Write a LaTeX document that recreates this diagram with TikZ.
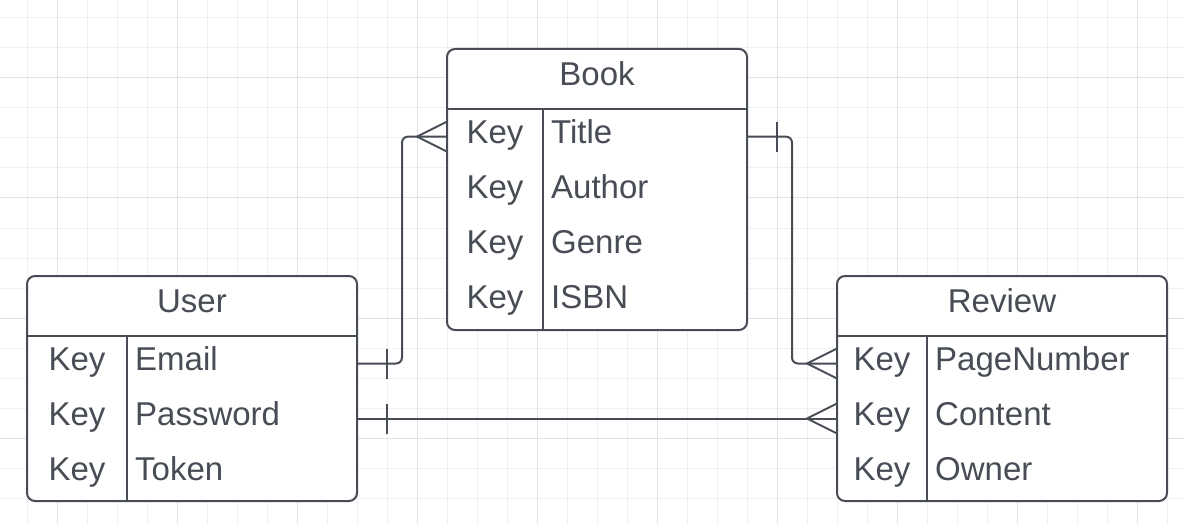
\documentclass[tikz,border=0pt]{standalone}
\usepackage{fontspec}
\setmainfont{Liberation Sans}
\usepackage{xcolor}
\usetikzlibrary{positioning,calc}
\definecolor{erdark}{HTML}{474C55}
\definecolor{gridminor}{HTML}{F0F0F0}
\definecolor{gridmajor}{HTML}{E2E2E2}

\begin{document}
\begin{tikzpicture}[x=1pt, y=-1pt,
  erline/.style={draw=erdark, line width=2pt},
  entity/.style={draw=erdark, fill=white, line width=2pt, rounded corners=8pt, inner sep=0pt, outer sep=0pt},
  keytxt/.style={font=\fontsize{33}{40}\selectfont, text=erdark, anchor=base, inner sep=0pt},
  attrtxt/.style={font=\fontsize{33}{40}\selectfont, text=erdark, anchor=base west, inner sep=0pt},
]
\useasboundingbox[fill=white] (0,0) rectangle (1184,524);
% Grid
\foreach \x in {27,57,...,1167} \draw[gridminor, line width=1pt] (\x,0) -- (\x,524);
\foreach \y in {18,48,...,498} \draw[gridminor, line width=1pt] (0,\y) -- (1184,\y);
\foreach \x in {57,177,...,1137} \draw[gridmajor, line width=1pt] (\x,0) -- (\x,524);
\foreach \y in {78,198,...,438} \draw[gridmajor, line width=1pt] (0,\y) -- (1184,\y);

% Tables
\foreach \nm/\xl/\yt/\w/\h/\kw/\hd in {%
  book/447/49/300/281/96/Book,
  user/27/276/330/225/100/User,
  review/837/276/330/225/90/Review%
} {
  \node[entity, minimum width=\w pt, minimum height=\h pt, anchor=north west] (\nm) at (\xl,\yt) {};
  \draw[erline] (\xl,{\yt+60}) -- ({\xl+\w},{\yt+60});
  \draw[erline] ({\xl+\kw},{\yt+60}) -- ({\xl+\kw},{\yt+\h});
  \node[keytxt] (\nm-hd) at ({\xl+\w/2},{\yt+36.5}) {\hd};
}
\foreach \i/\at in {1/Title,2/Author,3/Genre,4/ISBN} {
  \pgfmathsetmacro{\yc}{109+55.25*(\i-0.5)}
  \coordinate (book-w\i) at (447,\yc);
  \coordinate (book-e\i) at (747,\yc);
  \node[keytxt] (book-k\i) at (495,{\yc+6.5}) {Key};
  \node[attrtxt] (book-a\i) at (551,{\yc+6.5}) {\at};
}
\foreach \i/\at in {1/Email,2/Password,3/Token} {
  \pgfmathsetmacro{\yc}{336+55*(\i-0.5)}
  \coordinate (user-e\i) at (357,\yc);
  \node[keytxt] (user-k\i) at (77,{\yc+6.5}) {Key};
  \node[attrtxt] (user-a\i) at (135,{\yc+6.5}) {\at};
}
\foreach \i/\at in {1/PageNumber,2/Content,3/Owner} {
  \pgfmathsetmacro{\yc}{336+55*(\i-0.5)}
  \coordinate (review-w\i) at (837,\yc);
  \node[keytxt] (review-k\i) at (882,{\yc+6.5}) {Key};
  \node[attrtxt] (review-a\i) at (935,{\yc+6.5}) {\at};
}

% Relations
\draw[erline, rounded corners=6pt] (user-e1) -- ++(45,0) |- (book-w1);
\draw[erline] (user-e2) -- (review-w2);
\draw[erline, rounded corners=6pt] (book-e1) -- ++(45,0) |- (review-w1);
% one ends
\foreach \p in {user-e1,user-e2,book-e1}
  \draw[erline] ([xshift=30pt,yshift=15pt]\p) -- ([xshift=30pt,yshift=-15pt]\p);
% many ends
\foreach \p in {book-w1,review-w1,review-w2}
  \draw[erline] ([yshift=15pt]\p) -- ([xshift=-30pt]\p) -- ([yshift=-15pt]\p);
\end{tikzpicture}
\end{document}
